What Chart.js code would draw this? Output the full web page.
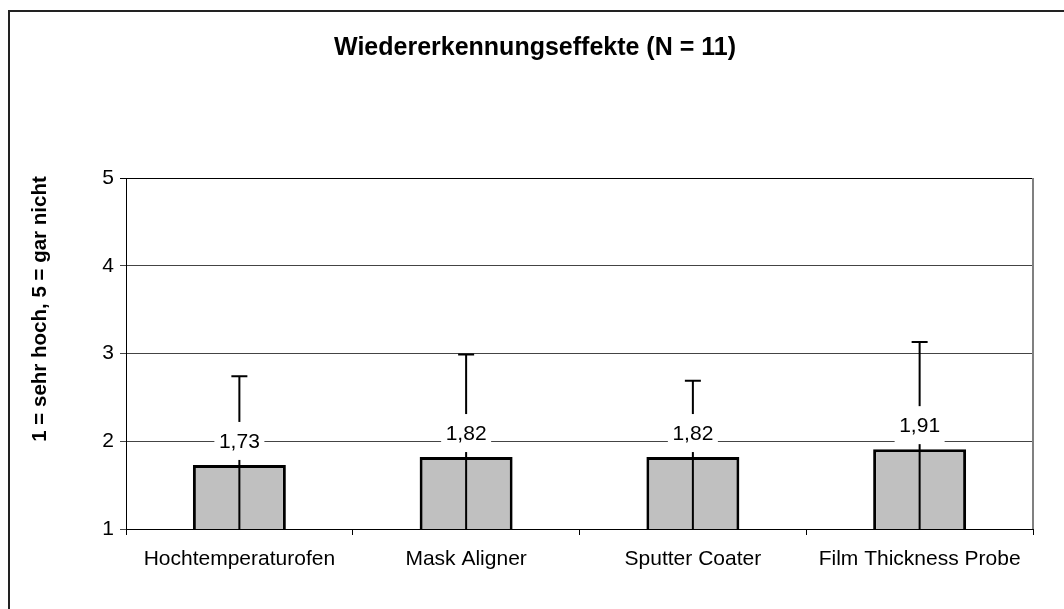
<!DOCTYPE html>
<html>
<head>
<meta charset="utf-8">
<script src="https://cdn.jsdelivr.net/npm/chart.js@4"></script>
<style>
    html, body { margin: 0; padding: 0; background: #fff; overflow: hidden; }
    #wrap { position: relative; width: 1064px; height: 609px; }
    #rahmen {
        position: absolute; left: 8px; top: 10px; width: 1100px; height: 650px;
        border: 2px solid #222; pointer-events: none;
    }
</style>
</head>
<body>
<div id="wrap">
    <canvas id="grafico" width="1064" height="609"></canvas>
    <div id="rahmen"></div>
</div>
<script>
// Dados do gráfico
const categorias = ['Hochtemperaturofen', 'Mask Aligner', 'Sputter Coater', 'Film Thickness Probe'];
const medias = [1.73, 1.82, 1.82, 1.91];
const desvios = [1.01, 1.17, 0.87, 1.22];
const ticksY = [1, 2, 3, 4, 5];
const titulo = 'Wiedererkennungseffekte (N = 11)';
const tituloY = '1 = sehr hoch, 5 = gar nicht';

const FONTE = '"Liberation Sans", Arial, sans-serif';

// -------------------------------------------------------
// Título, título do eixo Y, barras de erro e rótulos
// -------------------------------------------------------
const extras = {
    id: 'extras',
    afterDatasetsDraw(chart) {
        const ctx = chart.ctx;
        const area = chart.chartArea;
        const y = chart.scales.y;
        const meta = chart.getDatasetMeta(0);

        ctx.save();
        // borda direita da área de plotagem
        ctx.strokeStyle = '#808080';
        ctx.lineWidth = 2;
        ctx.beginPath();
        ctx.moveTo(area.right, area.top);
        ctx.lineTo(area.right, area.bottom);
        ctx.stroke();

        // barras de erro (linha cortada no limite do eixo)
        ctx.strokeStyle = '#000';
        ctx.lineWidth = 2;
        meta.data.forEach((bar, i) => {
            const topo = medias[i] + desvios[i];
            const base = Math.max(medias[i] - desvios[i], y.min);
            const yt = y.getPixelForValue(topo);
            const yb = y.getPixelForValue(base);
            ctx.beginPath();
            ctx.moveTo(bar.x, yb);
            ctx.lineTo(bar.x, yt);
            ctx.moveTo(bar.x - 8, yt);
            ctx.lineTo(bar.x + 8, yt);
            ctx.stroke();
        });

        // rótulos de valor com fundo branco
        ctx.font = '21px ' + FONTE;
        ctx.textAlign = 'center';
        ctx.textBaseline = 'middle';
        meta.data.forEach((bar, i) => {
            const texto = medias[i].toFixed(2).replace('.', ',');
            const cy = y.getPixelForValue(medias[i]) - 24;
            ctx.fillStyle = '#fff';
            ctx.fillRect(bar.x - 25, cy - 19, 50, 38);
            ctx.fillStyle = '#000';
            ctx.fillText(texto, bar.x, cy + 1);
        });

        // título principal
        ctx.font = 'bold 25px ' + FONTE;
        ctx.fillText(titulo, 535, 48);

        // título do eixo Y
        ctx.translate(40, 309);
        ctx.rotate(-Math.PI / 2);
        ctx.font = 'bold 20.5px ' + FONTE;
        ctx.fillText(tituloY, 0, 0);
        ctx.restore();
    }
};

new Chart(document.getElementById('grafico'), {
    type: 'bar',
    data: {
        labels: categorias,
        datasets: [{
            data: medias,
            backgroundColor: '#c0c0c0',
            borderColor: '#000',
            borderWidth: 3,
            borderSkipped: false,
            barPercentage: 0.82,
            categoryPercentage: 0.5
        }]
    },
    options: {
        responsive: false,
        animation: false,
        layout: { padding: { left: 0, top: 178, right: 31, bottom: 0 } },
        plugins: {
            legend: { display: false },
            tooltip: { enabled: false }
        },
        scales: {
            x: {
                grid: {
                    offset: true,
                    drawOnChartArea: false,
                    drawTicks: true,
                    tickLength: 6,
                    color: '#000'
                },
                border: { color: '#000', width: 1 },
                ticks: { color: '#000', font: { family: FONTE, size: 21 }, padding: 12 },
                afterFit: s => { s.height = 80; }
            },
            y: {
                min: 1,
                max: 5,
                afterBuildTicks: s => { s.ticks = ticksY.map(v => ({ value: v })); },
                grid: {
                    color: ctx => (ctx.tick && ctx.tick.value === 5) ? '#000' : '#444',
                    lineWidth: 1,
                    drawTicks: true,
                    tickLength: 6
                },
                border: { color: '#000', width: 1 },
                ticks: { color: '#000', font: { family: FONTE, size: 21 }, padding: 6 },
                afterFit: s => { s.width = 126; }
            }
        }
    },
    plugins: [extras]
});
</script>
</body>
</html>
